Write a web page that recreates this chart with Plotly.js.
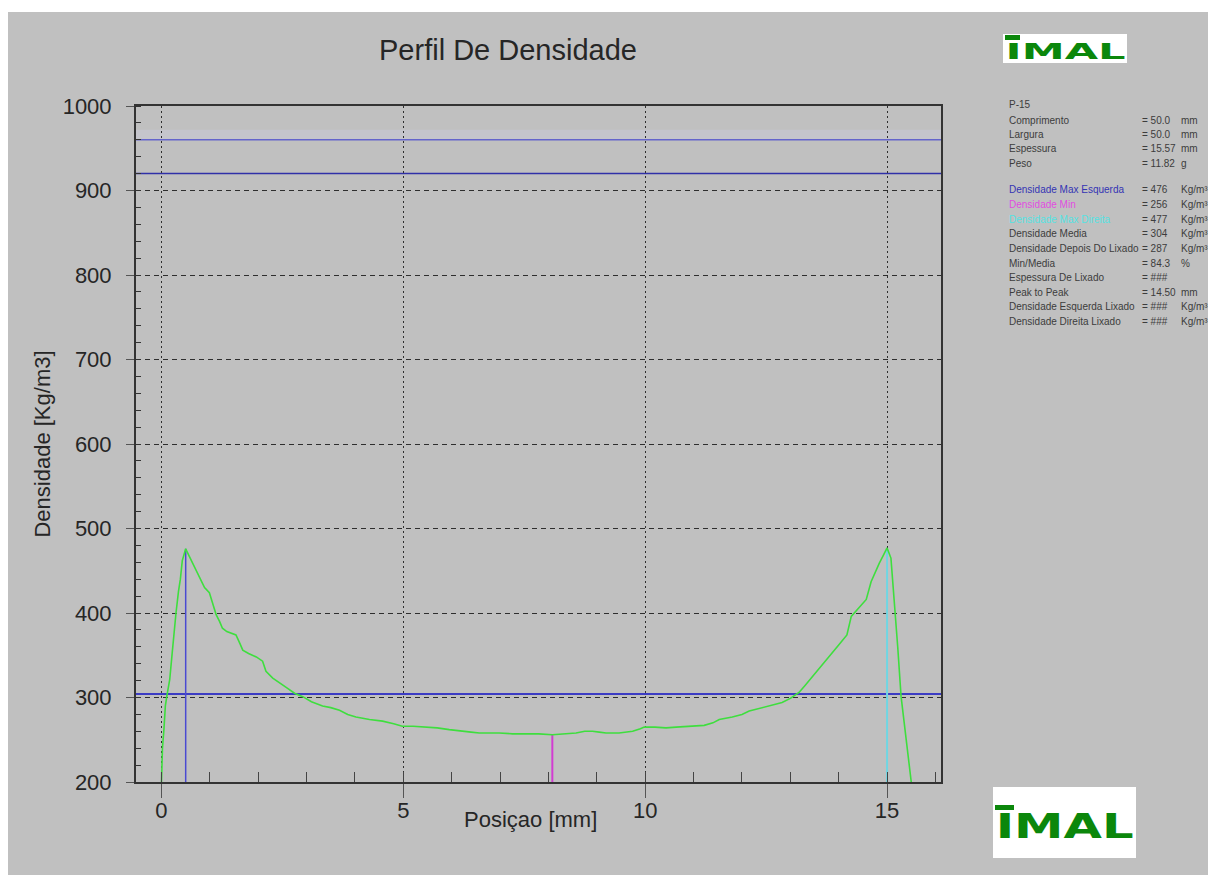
<!DOCTYPE html>
<html>
<head>
<meta charset="utf-8">
<script src="https://cdn.plot.ly/plotly-3.0.1.min.js"></script>
<style>
  html, body { margin: 0; padding: 0; background: #ffffff; }
  #chart { width: 1208px; height: 875px; }
</style>
</head>
<body>
<div id="chart"></div>
<script>
// ---- Density profile data (position in mm, density in kg/m3) ----
const posMm = [
  0.00, 0.02, 0.05, 0.08, 0.12, 0.17, 0.22, 0.26, 0.30, 0.35, 0.39, 0.43, 0.50,
  0.55, 0.62, 0.72, 0.80, 0.89, 0.99, 1.06, 1.13, 1.20, 1.26, 1.35, 1.45, 1.54,
  1.62, 1.68, 1.80, 1.96, 2.09, 2.16, 2.30, 2.44, 2.60, 2.75, 2.92, 3.10, 3.33,
  3.50, 3.68, 3.85, 4.02, 4.30, 4.57, 4.80, 4.98, 5.20, 5.47, 5.70, 5.95, 6.20,
  6.40, 6.57, 6.80, 6.98, 7.26, 7.50, 7.80, 8.08, 8.30, 8.57, 8.75, 8.91, 9.05,
  9.19, 9.46, 9.60, 9.74, 9.90, 9.98, 10.20, 10.43, 10.64, 10.91, 11.22, 11.40,
  11.53, 11.80, 12.00, 12.15, 12.42, 12.60, 12.83, 13.00, 13.18, 13.30, 13.45,
  13.60, 13.74, 13.85, 14.00, 14.17, 14.26, 14.40, 14.57, 14.67, 14.75, 14.84,
  14.92, 15.00, 15.08, 15.15, 15.22, 15.29, 15.35, 15.41, 15.46, 15.50
];
const densKgM3 = [
  200, 240, 262, 290, 305, 321, 352, 380, 400, 425, 440, 462, 476,
  470, 462, 451, 440, 430, 424, 410, 398, 390, 382, 378, 376, 374,
  364, 356, 352, 348, 343, 331, 323, 317, 311, 305, 301, 295, 290,
  288, 285, 280, 277, 274, 272, 269, 266, 266, 265, 264, 262, 260,
  259, 258, 258, 258, 257, 257, 257, 256, 257, 258, 260, 260, 259,
  258, 258, 259, 260, 263, 265, 265, 264, 265, 266, 267, 270,
  274, 277, 280, 284, 288, 291, 294, 299, 306, 314, 324,
  334, 344, 352, 362, 374, 396, 405, 416, 437, 448, 459,
  468, 477, 465, 415, 360, 301, 270, 241, 220, 200
];

// Reference levels and markers
const upperLimits = [960, 920];          // horizontal limit lines
const meanDensity = 304;                 // Densidade Media
const peakLeft  = { pos: 0.50,  value: 476 };
const minPoint  = { pos: 8.08,  value: 256 };
const peakRight = { pos: 15.00, value: 477 };

// Axis ticks
const xTicks = [0, 5, 10, 15];
const yTicks = [200, 300, 400, 500, 600, 700, 800, 900, 1000];

// Side panel text
const sampleId = 'P-15';
const specLabels = ['Comprimento', 'Largura', 'Espessura', 'Peso'];
const specValues = ['50.0', '50.0', '15.57', '11.82'];
const specUnits  = ['mm', 'mm', 'mm', 'g'];
const statLabels = [
  'Densidade Max Esquerda', 'Densidade Min', 'Densidade Max Direita',
  'Densidade Media', 'Densidade Depois Do Lixado', 'Min/Media',
  'Espessura De Lixado', 'Peak to Peak', 'Densidade Esquerda Lixado',
  'Densidade Direita Lixado'
];
const statValues = ['476', '256', '477', '304', '287', '84.3', '###', '14.50', '###', '###'];
const statUnits  = ['Kg/m³', 'Kg/m³', 'Kg/m³', 'Kg/m³', 'Kg/m³', '%', '', 'mm', 'Kg/m³', 'Kg/m³'];
const logoText = 'IMAL';

// ---- Styling ----
const W = 1208, H = 875;
const M = { l: 136, r: 267, t: 106, b: 93 };
const plotW = W - M.l - M.r, plotH = H - M.t - M.b;
const bg = '#c0c0c0';
const ink = '#262626';
const panelInk = '#3c3c3c';
const green = '#3ede3e';
const blueLeft = '#4a4ad2';
const magenta = '#d23cd2';
const cyan = '#6fd6e2';
const meanBlue = '#3c3cc4';
const logoGreen = '#0b870b';
const labelColors = { 0: '#3434b4', 1: '#e04ce0', 2: '#56e2e2' };

// pixel -> paper helpers for decorations placed around the plot
const px = x => (x - M.l) / plotW;
const py = y => (H - M.b - y) / plotH;

const traces = [{
  type: 'scatter', mode: 'lines',
  x: posMm, y: densKgM3,
  line: { color: green, width: 1.6 },
  hoverinfo: 'x+y', showlegend: false
}];

const shapes = [];
// white frame strips along top and left edges
shapes.push({ type: 'rect', xref: 'paper', yref: 'paper', layer: 'below',
  x0: px(0), x1: px(W), y0: py(0), y1: py(12), fillcolor: '#ffffff', line: { width: 0 } });
shapes.push({ type: 'rect', xref: 'paper', yref: 'paper', layer: 'below',
  x0: px(0), x1: px(8), y0: py(H), y1: py(0), fillcolor: '#ffffff', line: { width: 0 } });

// limit lines
shapes.push({ type: 'rect', xref: 'paper', yref: 'y', layer: 'between',
  x0: 0, x1: 1, y0: upperLimits[0], y1: upperLimits[0] + 12,
  fillcolor: 'rgba(205,205,226,0.35)', line: { width: 0 } });
shapes.push({ type: 'line', xref: 'paper', yref: 'y', layer: 'between',
  x0: 0, x1: 1, y0: upperLimits[0], y1: upperLimits[0], line: { color: '#6464cc', width: 1.5 } });
shapes.push({ type: 'line', xref: 'paper', yref: 'y', layer: 'between',
  x0: 0, x1: 1, y0: upperLimits[1], y1: upperLimits[1], line: { color: '#3030a8', width: 1.5 } });
shapes.push({ type: 'line', xref: 'paper', yref: 'y', layer: 'between',
  x0: 0, x1: 1, y0: meanDensity, y1: meanDensity, line: { color: meanBlue, width: 2 } });

// peak / minimum markers
[[peakLeft, blueLeft, 1.5], [minPoint, magenta, 2], [peakRight, cyan, 2]].forEach(([p, c, w]) => {
  shapes.push({ type: 'line', xref: 'x', yref: 'y', layer: 'between',
    x0: p.pos, x1: p.pos, y0: yTicks[0], y1: p.value, line: { color: c, width: w } });
});

// logo boxes and the bar over the I
const logos = [
  { box: [1003, 34, 1127, 63], txt: [1005, 45, 1125, 60], bar: [1005, 35, 1020, 40] },
  { box: [993, 787, 1136, 858], txt: [995, 813, 1133, 838], bar: [995, 805, 1014, 810] }
];
logos.forEach(l => {
  shapes.push({ type: 'rect', xref: 'paper', yref: 'paper', layer: 'below',
    x0: px(l.box[0]), x1: px(l.box[2]), y0: py(l.box[3]), y1: py(l.box[1]),
    fillcolor: '#ffffff', line: { width: 0 } });
  shapes.push({ type: 'rect', xref: 'paper', yref: 'paper', layer: 'above',
    x0: px(l.bar[0]), x1: px(l.bar[2]), y0: py(l.bar[3]), y1: py(l.bar[1]),
    fillcolor: logoGreen, line: { width: 0 } });
});

// ---- Annotations: side panel, logos, x title ----
const annotations = [];
const panelFont = { family: 'Liberation Sans, Arial, sans-serif', size: 10, color: panelInk };
function panelText(text, x, y, color) {
  annotations.push({ xref: 'paper', yref: 'paper', x: px(x), y: py(y),
    xanchor: 'left', yanchor: 'middle', showarrow: false, text: text,
    font: Object.assign({}, panelFont, color ? { color: color } : {}) });
}
const colLabel = 1007, colValue = 1140, colUnit = 1179;
panelText(sampleId, colLabel, 105);
specLabels.forEach((s, i) => {
  const y = 120 + i * 14.4;
  panelText(s, colLabel, y);
  panelText('= ' + specValues[i], colValue, y);
  panelText(specUnits[i], colUnit, y);
});
statLabels.forEach((s, i) => {
  const y = 190 + i * 14.6;
  panelText(s, colLabel, y, labelColors[i]);
  panelText('= ' + statValues[i], colValue, y);
  if (statUnits[i]) panelText(statUnits[i], colUnit, y);
});

// x axis title, set on the tick-label row
annotations.push({ xref: 'paper', yref: 'paper', x: px(530), y: py(819),
  xanchor: 'center', yanchor: 'middle', showarrow: false, text: 'Posiçao [mm]',
  font: { size: 22, color: ink } });

const logoAnnIdx = [];
logos.forEach(l => {
  const capH = l.txt[3] - l.txt[1];
  logoAnnIdx.push({ idx: annotations.length, width: l.txt[2] - l.txt[0] });
  annotations.push({ xref: 'paper', yref: 'paper',
    x: px((l.txt[0] + l.txt[2]) / 2), y: py((l.txt[1] + l.txt[3]) / 2),
    xanchor: 'center', yanchor: 'middle', align: 'center', showarrow: false,
    text: logoText,
    font: { family: 'DejaVu Sans', size: capH / 0.729, color: logoGreen, weight: 'bold' } });
});

const layout = {
  width: W, height: H,
  margin: M,
  paper_bgcolor: bg, plot_bgcolor: bg,
  font: { family: 'Liberation Sans, Arial, sans-serif', color: ink },
  title: { text: 'Perfil De Densidade', font: { size: 29, color: ink },
    xref: 'container', yref: 'container', x: 508 / W, xanchor: 'center',
    y: 1 - 50 / H, yanchor: 'middle' },
  showlegend: false,
  xaxis: {
    range: [-0.527, 16.115], tickvals: xTicks, ticktext: xTicks.map(String),
    showgrid: true, gridcolor: '#2e2e2e', gridwidth: 1, griddash: '2px,3px',
    zeroline: false, showline: true, linecolor: '#333333', linewidth: 2, mirror: true,
    ticks: 'outside', ticklen: 14, tickcolor: '#555555', tickwidth: 1,
    ticklabelstandoff: -6,
    tickfont: { size: 22, color: ink },
    minor: { dtick: 1, ticks: 'inside', ticklen: 10, tickcolor: '#444444', tickwidth: 1, showgrid: false },
    automargin: false, fixedrange: true
  },
  yaxis: {
    range: [200, 1000], tickvals: yTicks, ticktext: yTicks.map(String),
    showgrid: true, gridcolor: '#2e2e2e', gridwidth: 1, griddash: '5px,4px',
    zeroline: false, showline: true, linecolor: '#333333', linewidth: 2, mirror: true,
    ticks: 'outside', ticklen: 8, tickcolor: '#555555', tickwidth: 1,
    ticklabelstandoff: 10,
    tickfont: { size: 22, color: ink },
    minor: { dtick: 20, ticks: 'inside', ticklen: 5, tickcolor: '#333333', tickwidth: 1, showgrid: false },
    title: { text: 'Densidade [Kg/m3]', font: { size: 22, color: ink }, standoff: 6 },
    automargin: false, fixedrange: true
  },
  shapes: shapes,
  annotations: annotations
};

const gd = document.getElementById('chart');
Plotly.newPlot(gd, traces, layout, { displayModeBar: false, staticPlot: true }).then(() => {
  // stretch the logo lettering to the width of its box
  logoAnnIdx.forEach(({ idx, width }) => {
    const t = gd.querySelector('.annotation[data-index="' + idx + '"] text');
    if (t) {
      t.setAttribute('textLength', width);
      t.setAttribute('lengthAdjust', 'spacingAndGlyphs');
    }
  });
});
</script>
</body>
</html>
